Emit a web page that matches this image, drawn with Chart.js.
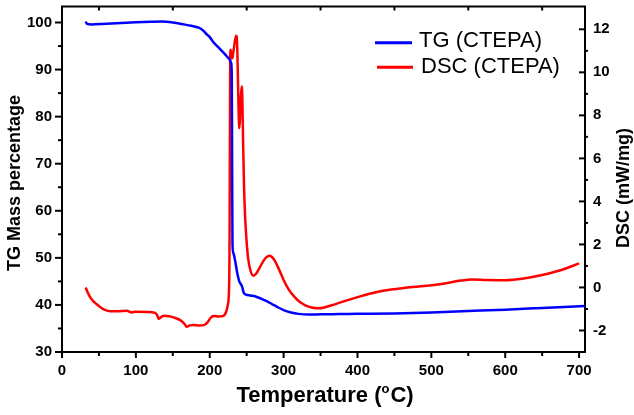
<!DOCTYPE html>
<html><head><meta charset="utf-8">
<script src="https://cdn.jsdelivr.net/npm/chart.js@4.4.1/dist/chart.umd.min.js"></script>
<style>html,body{margin:0;padding:0;background:#fff;} canvas{display:block;}</style>
</head><body>
<canvas id="c" width="634" height="415"></canvas>
<script>
// ---- data ----
const tgTemp = [32, 34, 40, 60, 80, 100, 120, 135, 150, 165, 175, 185, 191, 196, 200, 205, 210, 215, 220, 225, 229, 229.8, 230.3, 230.8, 232, 234.5, 237, 240, 242.5, 244, 246, 249, 255, 262, 270, 277, 284, 291, 300, 310, 320, 335, 350, 375, 400, 450, 500, 550, 600, 650, 708];
const tgMass = [100.2, 99.7, 99.6, 99.75, 99.9, 100.05, 100.15, 100.2, 100.0, 99.6, 99.3, 98.9, 98.3, 97.5, 96.9, 95.8, 95.0, 94.2, 93.4, 92.5, 91.4, 89.0, 70.0, 53.0, 51.0, 49.3, 47.0, 45.0, 44.3, 43.8, 42.6, 42.2, 42.0, 41.8, 41.3, 40.8, 40.2, 39.6, 38.9, 38.4, 38.1, 37.95, 38.0, 38.05, 38.1, 38.2, 38.4, 38.7, 39.0, 39.35, 39.75];

const dscTemp = [32, 35, 38, 42, 47, 52, 58, 65, 75, 88, 94, 100, 115, 126, 129, 131, 134, 138, 145, 152, 160, 166, 169, 173, 178, 186, 192, 197, 201, 205, 212, 218, 222, 224.5, 226, 226.8, 227.3, 227.7, 228.2, 229.2, 230.6, 232, 234, 235.8, 237, 238, 239, 240, 241, 242.2, 243.5, 244.3, 245.3, 246.5, 248, 250, 252, 255, 259, 263, 268, 274, 281, 287, 293, 300, 307, 315, 322, 330, 338, 347, 355, 365, 380, 400, 425, 450, 475, 500, 520, 540, 555, 575, 600, 625, 650, 675, 700];
const dscVal = [0.0, -0.25, -0.45, -0.62, -0.78, -0.92, -1.04, -1.1, -1.1, -1.08, -1.16, -1.13, -1.14, -1.18, -1.3, -1.46, -1.38, -1.31, -1.34, -1.4, -1.52, -1.7, -1.83, -1.76, -1.74, -1.77, -1.75, -1.62, -1.42, -1.33, -1.35, -1.33, -1.15, -0.8, -0.2, 2.0, 7.0, 10.5, 11.05, 10.8, 10.65, 10.95, 11.45, 11.7, 11.4, 10.0, 8.3, 7.4, 7.9, 8.9, 9.35, 8.5, 6.5, 4.6, 3.2, 2.1, 1.35, 0.8, 0.55, 0.65, 0.95, 1.3, 1.47, 1.3, 0.9, 0.35, -0.1, -0.45, -0.68, -0.84, -0.93, -0.97, -0.93, -0.83, -0.66, -0.45, -0.22, -0.08, 0.02, 0.1, 0.2, 0.32, 0.37, 0.35, 0.34, 0.42, 0.58, 0.8, 1.12];

const xTicks = [0, 100, 200, 300, 400, 500, 600, 700];
const tgTicks = [30, 40, 50, 60, 70, 80, 90, 100];
const dscTicks = [-2, 0, 2, 4, 6, 8, 10, 12];
const seriesNames = ['TG (CTEPA)', 'DSC (CTEPA)'];
const xTitle = ['Temperature (', 'o', 'C)'];
const yTitle = 'TG Mass percentage';
const y2Title = 'DSC (mW/mg)';

// ---- styling ----
const FONT = '"Liberation Sans", Arial, Helvetica, sans-serif';
const BLUE = '#0000ff', RED = '#ff0000';

const pts = (xs, ys) => xs.map((x, i) => ({x: x, y: ys[i]}));
const mids = arr => arr.slice(1).map((v, i) => (v + arr[i]) / 2);

const decor = {
  id: 'decor',
  afterDraw(chart) {
    const ctx = chart.ctx, a = chart.chartArea;
    const sx = chart.scales.x, sy = chart.scales.y, sy2 = chart.scales.y2;
    ctx.save();
    ctx.strokeStyle = '#000';
    ctx.lineWidth = 2;
    const seg = (x1, y1, x2, y2) => { ctx.beginPath(); ctx.moveTo(x1, y1); ctx.lineTo(x2, y2); ctx.stroke(); };
    // top frame line
    seg(a.left - 1, a.top, a.right + 1, a.top);
    // bottom ticks (outward) + top ticks (inward)
    xTicks.forEach(v => { const p = sx.getPixelForValue(v); seg(p, a.bottom, p, a.bottom + 6); });
    mids(xTicks).forEach(v => { const p = sx.getPixelForValue(v); seg(p, a.bottom, p, a.bottom + 4); seg(p, a.top, p, a.top + 4); });
    // left ticks (outward)
    tgTicks.forEach(v => { const p = sy.getPixelForValue(v); seg(a.left, p, a.left - 7, p); });
    mids(tgTicks).forEach(v => { const p = sy.getPixelForValue(v); seg(a.left, p, a.left - 4, p); });
    // right ticks: major inward, minor outward
    dscTicks.forEach(v => { const p = sy2.getPixelForValue(v); seg(a.right, p, a.right - 6, p); });
    mids(dscTicks).forEach(v => { const p = sy2.getPixelForValue(v); seg(a.right, p, a.right + 3, p); });

    // axis titles
    ctx.fillStyle = '#000';
    ctx.font = 'bold 18px ' + FONT;
    ctx.textAlign = 'center';
    ctx.textBaseline = 'middle';
    ctx.save(); ctx.translate(15, 183); ctx.rotate(-Math.PI / 2); ctx.fillText(yTitle, 0, 0); ctx.restore();
    ctx.save(); ctx.translate(624, 188); ctx.rotate(-Math.PI / 2); ctx.fillText(y2Title, 0, 0); ctx.restore();

    // x title with superscript
    ctx.textAlign = 'left';
    ctx.textBaseline = 'alphabetic';
    const bigF = 'bold 22px ' + FONT, supF = 'bold 13px ' + FONT;
    ctx.font = bigF; const w1 = ctx.measureText(xTitle[0]).width; const w3 = ctx.measureText(xTitle[2]).width;
    ctx.font = supF; const w2 = ctx.measureText(xTitle[1]).width;
    let x0 = 325 - (w1 + w2 + w3 + 1) / 2;
    const base = 402;
    ctx.font = bigF; ctx.fillText(xTitle[0], x0, base);
    ctx.font = supF; ctx.fillText(xTitle[1], x0 + w1, base - 9);
    ctx.font = bigF; ctx.fillText(xTitle[2], x0 + w1 + w2 + 1, base);

    // legend
    ctx.font = '22px ' + FONT;
    ctx.lineWidth = 3;
    ctx.strokeStyle = BLUE; seg(375, 42.7, 412, 42.7);
    ctx.fillText(seriesNames[0], 419, 47);
    ctx.strokeStyle = RED; seg(377, 67.3, 413, 67.3);
    ctx.fillText(seriesNames[1], 421, 73);
    ctx.restore();
  }
};

const tickFont = {family: FONT, size: 15, weight: 'bold'};

new Chart(document.getElementById('c'), {
  type: 'line',
  data: {
    datasets: [
      {label: seriesNames[0], data: pts(tgTemp, tgMass), yAxisID: 'y', borderColor: BLUE, borderWidth: 2.5, pointRadius: 0, cubicInterpolationMode: 'monotone', fill: false},
      {label: seriesNames[1], data: pts(dscTemp, dscVal), yAxisID: 'y2', borderColor: RED, borderWidth: 2.5, pointRadius: 0, cubicInterpolationMode: 'monotone', fill: false}
    ]
  },
  options: {
    responsive: false,
    animation: false,
    devicePixelRatio: 1,
    parsing: true,
    layout: {padding: {top: 6.5, left: 0, right: 0, bottom: 0}},
    plugins: {legend: {display: false}, tooltip: {enabled: false}},
    scales: {
      x: {
        type: 'linear', position: 'bottom', min: 0, max: 708,
        afterBuildTicks: s => { s.ticks = xTicks.map(v => ({value: v})); },
        afterFit: s => { s.height = 63; s.paddingLeft = 0; s.paddingRight = 0; },
        ticks: {font: tickFont, color: '#000', padding: 10, autoSkip: false, maxRotation: 0},
        grid: {display: false, drawTicks: false},
        border: {display: true, color: '#000', width: 2}
      },
      y: {
        type: 'linear', position: 'left', min: 30, max: 103.4,
        afterBuildTicks: s => { s.ticks = tgTicks.map(v => ({value: v})); },
        afterFit: s => { s.width = 62; s.paddingTop = 0; s.paddingBottom = 0; },
        ticks: {font: tickFont, color: '#000', padding: 10, autoSkip: false},
        grid: {display: false, drawTicks: false},
        border: {display: true, color: '#000', width: 2}
      },
      y2: {
        type: 'linear', position: 'right', min: -3, max: 13.06,
        afterBuildTicks: s => { s.ticks = dscTicks.map(v => ({value: v})); },
        afterFit: s => { s.width = 49; s.paddingTop = 0; s.paddingBottom = 0; },
        ticks: {font: tickFont, color: '#000', padding: 8, autoSkip: false},
        grid: {display: false, drawTicks: false},
        border: {display: true, color: '#000', width: 2}
      }
    }
  },
  plugins: [decor]
});
</script>
</body></html>
